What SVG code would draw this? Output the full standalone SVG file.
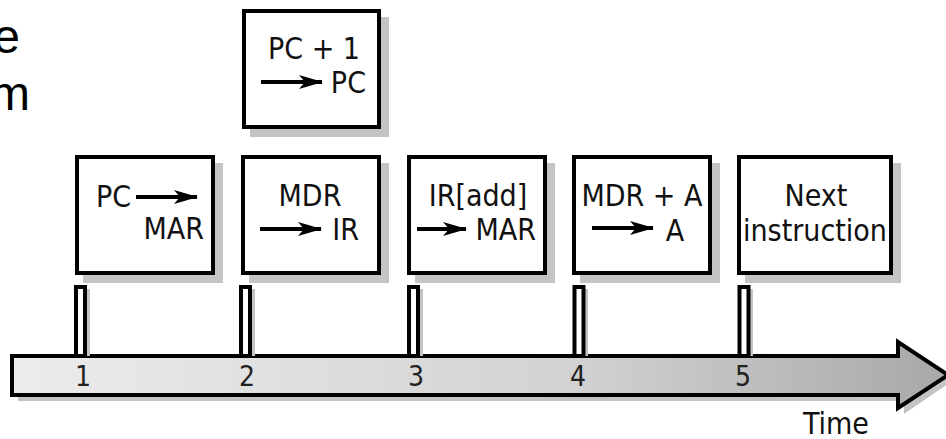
<svg xmlns="http://www.w3.org/2000/svg" width="946" height="439" viewBox="0 0 946 439">
<defs>
<style>
.box{fill:#fff;stroke:#000;stroke-width:4}
.sh{fill:#c4c4c4}
.t{font-family:"DejaVu Sans Condensed","DejaVu Sans","Liberation Sans",sans-serif;font-stretch:condensed;font-size:30px;fill:#111}
.big{font-family:"Liberation Sans",Arial,sans-serif;font-size:48px;fill:#000}
.num{font-family:"DejaVu Sans Condensed","DejaVu Sans",sans-serif;font-stretch:condensed;font-size:28px;fill:#222;text-anchor:middle}
.ar{stroke:#000;stroke-width:4;fill:none;marker-end:url(#ah)}
.tick{fill:#fff;stroke:#000;stroke-width:4}
</style>
<marker id="ah" viewBox="0 0 24 14" refX="23" refY="7" markerWidth="24" markerHeight="14" markerUnits="userSpaceOnUse" orient="auto">
<path d="M0,0 L24,7 L0,14 L6,7 Z" fill="#000"/>
</marker>
<linearGradient id="g" x1="0" y1="0" x2="1" y2="0">
<stop offset="0" stop-color="#ececec"/>
<stop offset="0.6" stop-color="#d2d2d2"/>
<stop offset="1" stop-color="#a8a8a8"/>
</linearGradient>
</defs>

<text class="big" x="20" y="53" text-anchor="end">e</text>
<text class="big" x="30" y="110" text-anchor="end">m</text>

<g id="axis">
<polygon class="sh" points="18,362 904,362 904,348 952,381 904,414 904,401 18,401"/>
<polygon points="12,356 898,356 898,342 948,375 898,408 898,395 12,395" fill="url(#g)" stroke="#000" stroke-width="4" stroke-linejoin="miter"/>
<text class="num" x="83" y="386">1</text>
<text class="num" x="247" y="386">2</text>
<text class="num" x="416" y="386">3</text>
<text class="num" x="578" y="386">4</text>
<text class="num" x="743" y="386">5</text>
<text class="t" x="803" y="434">Time</text>
</g>

<g id="ticks">
<rect class="sh" x="79" y="289" width="11" height="67"/>
<rect class="sh" x="244" y="289" width="11" height="67"/>
<rect class="sh" x="412" y="289" width="11" height="67"/>
<rect class="sh" x="577" y="289" width="11" height="67"/>
<rect class="sh" x="742" y="289" width="11" height="67"/>
<rect class="tick" x="76" y="287" width="9" height="69"/>
<rect class="tick" x="241" y="287" width="9" height="69"/>
<rect class="tick" x="409" y="287" width="9" height="69"/>
<rect class="tick" x="574.5" y="287" width="9" height="69"/>
<rect class="tick" x="739.5" y="287" width="9" height="69"/>
</g>

<g id="n0">
<rect class="sh" x="250" y="17" width="139" height="120"/>
<rect class="box" x="244" y="11" width="135" height="116"/>
<text class="t" x="314" y="59" text-anchor="middle">PC + 1</text>
<line class="ar" x1="261" y1="82" x2="322" y2="82"/>
<text class="t" x="366" y="93" text-anchor="end">PC</text>
</g>

<g id="n1">
<rect class="sh" x="83" y="163" width="140" height="120"/>
<rect class="box" x="77" y="157" width="136" height="116"/>
<text class="t" x="96" y="207">PC</text>
<line class="ar" x1="136" y1="197" x2="197" y2="197"/>
<text class="t" x="204" y="239" text-anchor="end">MAR</text>
</g>

<g id="n2">
<rect class="sh" x="249" y="163" width="140" height="120"/>
<rect class="box" x="243" y="157" width="136" height="116"/>
<text class="t" x="310" y="206" text-anchor="middle">MDR</text>
<line class="ar" x1="260" y1="229" x2="321" y2="229"/>
<text class="t" x="359" y="240" text-anchor="end">IR</text>
</g>

<g id="n3">
<rect class="sh" x="415" y="163" width="140" height="120"/>
<rect class="box" x="409" y="157" width="136" height="116"/>
<text class="t" x="478" y="206" text-anchor="middle">IR[add]</text>
<line class="ar" x1="417" y1="229" x2="466" y2="229"/>
<text class="t" x="536" y="240" text-anchor="end">MAR</text>
</g>

<g id="n4">
<rect class="sh" x="580" y="163" width="140" height="120"/>
<rect class="box" x="574" y="157" width="136" height="116"/>
<text class="t" x="642" y="206" text-anchor="middle">MDR + A</text>
<line class="ar" x1="592" y1="228" x2="653" y2="228"/>
<text class="t" x="675" y="241" text-anchor="middle">A</text>
</g>

<g id="n5">
<rect class="sh" x="745" y="163" width="156" height="120"/>
<rect class="box" x="739" y="157" width="152" height="116"/>
<text class="t" x="816" y="206" text-anchor="middle">Next</text>
<text class="t" x="815" y="241" text-anchor="middle">instruction</text>
</g>
</svg>
